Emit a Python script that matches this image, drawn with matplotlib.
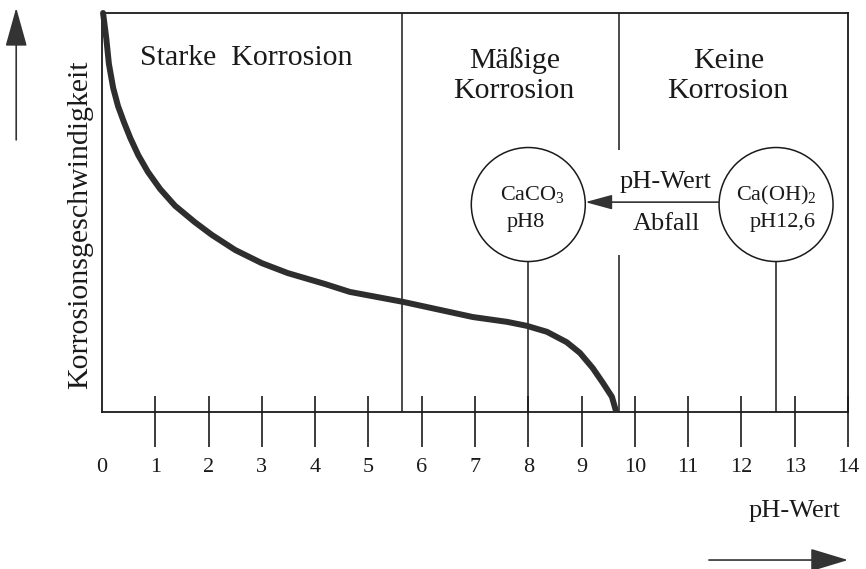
import matplotlib
matplotlib.use("Agg")
import matplotlib.pyplot as plt
from matplotlib.patches import Ellipse

plt.rcParams['font.family'] = ['Liberation Serif', 'DejaVu Serif']
plt.rcParams['mathtext.fontset'] = 'custom'
plt.rcParams['mathtext.rm'] = 'Liberation Serif'
plt.rcParams['mathtext.it'] = 'Liberation Serif:italic'

# ---- data ----
ph_ticks = list(range(0, 15))
tick_labels = [str(t) for t in ph_ticks]
curve_ph = [0.02, 0.08, 0.13, 0.21, 0.30, 0.41, 0.53, 0.68, 0.86, 1.09, 1.37, 1.74,
            2.06, 2.50, 3.00, 3.49, 4.18, 4.65, 5.65, 6.34, 6.96, 7.60, 7.97, 8.35,
            8.72, 8.97, 9.21, 9.40, 9.57, 9.64]
curve_rate = [10.0, 9.37, 8.72, 8.12, 7.67, 7.27, 6.87, 6.44, 6.02, 5.59, 5.17, 4.76,
              4.44, 4.06, 3.73, 3.48, 3.21, 3.01, 2.76, 2.56, 2.38, 2.26, 2.16, 2.01,
              1.75, 1.48, 1.10, 0.73, 0.38, 0.05]
zone_bounds = [5.63, 9.7]
caco3_ph = 8.0
caoh2_ph = 12.65

W, H = 866, 569
fig = plt.figure(figsize=(W / 100, H / 100), dpi=100)
fig.patch.set_facecolor('white')
ax = fig.add_axes([102 / W, 1 - 412 / H, 746 / W, 399 / H])
ax.set_xlim(0, 14)
ax.set_ylim(0, 10)
ax.set_facecolor('white')

ink = '#1a1a1a'
for s in ax.spines.values():
    s.set_linewidth(1.3)
    s.set_color(ink)

# ticks
ax.set_xticks(ph_ticks)
ax.set_xticklabels(tick_labels)
ax.tick_params(axis='x', direction='out', length=25, width=1.2, color=ink,
               pad=8, labelsize=16, labelcolor=ink)
ax.xaxis.get_major_ticks()[0].tick1line.set_visible(False)
ax.set_yticks([])
ax.vlines(ph_ticks[1:], 0, 0.4, color=ink, lw=1.2, clip_on=False)

# zone boundaries
ax.vlines(zone_bounds[0], 0, 10, color=ink, lw=1.1)
ax.vlines(zone_bounds[1], 6.57, 10, color=ink, lw=1.1)
ax.vlines(zone_bounds[1], 0, 3.93, color=ink, lw=1.1)

# zone labels
ax.text(2.70, 8.70, "Starke  Korrosion", fontsize=21.5, ha='center', va='baseline', color=ink)
ax.text(7.74, 8.62, "Mäßige", fontsize=21.5, ha='center', va='baseline', color=ink)
ax.text(7.73, 7.87, "Korrosion", fontsize=21.5, ha='center', va='baseline', color=ink)
ax.text(11.76, 8.62, "Keine", fontsize=21.5, ha='center', va='baseline', color=ink)
ax.text(11.74, 7.87, "Korrosion", fontsize=21.5, ha='center', va='baseline', color=ink)

# circles
rx = 57 / 53.3
ry = 57 / 39.9
cy = 5.2
for cx in (caco3_ph, caoh2_ph):
    ax.add_patch(Ellipse((cx, cy), 2 * rx, 2 * ry, fill=False, ec=ink, lw=1.1))
    ax.vlines(cx, 0, cy - ry, color=ink, lw=1.1)

ax.text(caco3_ph + 0.07, 5.31, r"CaCO$_\mathrm{3}$", fontsize=16, ha='center', va='baseline', color=ink)
ax.text(caco3_ph - 0.05, 4.64, "pH8", fontsize=16, ha='center', va='baseline', color=ink)
ax.text(caoh2_ph + 0.0, 5.31, r"Ca(OH)$_\mathrm{2}$", fontsize=16, ha='center', va='baseline', color=ink)
ax.text(caoh2_ph + 0.12, 4.64, "pH12,6", fontsize=16, ha='center', va='baseline', color=ink)

# pH drop arrow
ax.annotate("", xy=(caco3_ph + rx, 5.26), xytext=(caoh2_ph - rx, 5.26),
            arrowprops=dict(arrowstyle='-|>,head_length=0.55,head_width=0.15',
                            mutation_scale=30, color='#333333', lw=1.2,
                            shrinkA=0, shrinkB=0))
ax.text(10.58, 5.61, "pH-Wert", fontsize=19, ha='center', va='baseline', color=ink)
ax.text(10.6, 4.56, "Abfall", fontsize=19, ha='center', va='baseline', color=ink)

# curve
ax.plot(curve_ph, curve_rate, color='#2e2e2e', lw=4.3, solid_capstyle='round',
        solid_joinstyle='round', clip_on=False, zorder=3)

# axis labels
ax.text(-0.41, 4.69, "Korrosionsgeschwindigkeit", fontsize=21.5, rotation=90,
        ha='center', va='center', color=ink, clip_on=False)
ax.text(13.0, -2.63, "pH-Wert", fontsize=19, ha='center', va='baseline', color=ink, clip_on=False)

# direction arrows
ax.annotate("", xy=(-1.61, 10.13), xytext=(-1.61, 6.82), annotation_clip=False,
            arrowprops=dict(arrowstyle='-|>,head_length=1.22,head_width=0.34',
                            mutation_scale=20, color='#333333', lw=1.2,
                            shrinkA=0, shrinkB=0))
ax.annotate("", xy=(14.0, -3.71), xytext=(11.39, -3.71), annotation_clip=False,
            arrowprops=dict(arrowstyle='-|>,head_length=1.19,head_width=0.36',
                            mutation_scale=20, color='#333333', lw=1.2,
                            shrinkA=0, shrinkB=0))

fig.savefig("out.png", dpi=100, facecolor='white')
